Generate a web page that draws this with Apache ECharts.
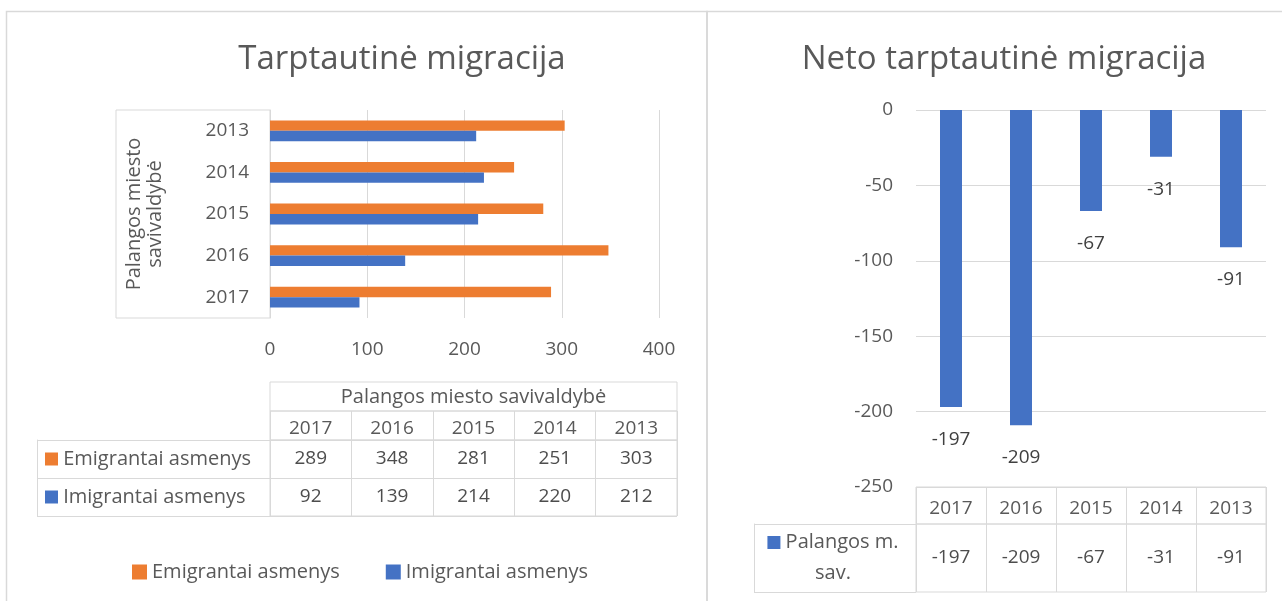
<!DOCTYPE html>
<html>
<head>
<meta charset="utf-8">
<title>Tarptautinė migracija</title>
<script src="https://cdn.jsdelivr.net/npm/echarts@6/dist/echarts.min.js"></script>
<style>
html, body { margin: 0; padding: 0; background: #fff; }
#chart { width: 1282px; height: 601px; }
</style>
</head>
<body>
<div id="chart"></div>
<script>
// duomenys
const years = ['2017', '2016', '2015', '2014', '2013'];
const emigrantai = [289, 348, 281, 251, 303];
const imigrantai = [92, 139, 214, 220, 212];
const neto = [-197, -209, -67, -31, -91];
const groupName = 'Palangos miesto savivaldybė';
const emigName = 'Emigrantai asmenys';
const imigName = 'Imigrantai asmenys';
const netoName = 'Palangos m.\nsav.';

const ORANGE = '#ED7D31';
const BLUE = '#4472C4';
const LINE = '#d9d9d9';
const TXT = '#595959';
const FONT = 'Open Sans';

const txt = (size) => ({ fontFamily: FONT, fontSize: size, color: TXT });
const hidden = (i) => ({ gridIndex: i, type: 'value', show: false });

// lenteles langeliu tekstas per scatter taskus
function cells(xi, yi, row, values) {
    return {
        type: 'scatter', xAxisIndex: xi, yAxisIndex: yi, symbolSize: 0, silent: true,
        itemStyle: { opacity: 1 },
        data: years.map((y, i) => [y, row, values[i]]),
        label: { show: true, position: 'inside', formatter: p => p.value[2], ...txt(19), color: '#4d4d4d' }
    };
}

const rowLabel = (v) => {
    const lines = v.split('\n');
    const key = (v === emigName) ? 'o' : 'b';
    return '{' + key + '|}{t| ' + lines[0] + '}' + lines.slice(1).map(l => '\n{t|' + l + '}').join('');
};
const rowRich = {
    o: { width: 13, height: 13, backgroundColor: ORANGE },
    b: { width: 13, height: 13, backgroundColor: BLUE },
    t: { ...txt(20), lineHeight: 31 }
};

const chart = echarts.init(document.getElementById('chart'));
chart.setOption({
    animation: false,
    textStyle: { fontFamily: FONT },
    title: [
        { text: 'Tarptautinė migracija', left: 397, top: 38, textAlign: 'center',
          textStyle: { ...txt(33), fontWeight: 'normal' } },
        { text: 'Neto tarptautinė migracija', left: 999, top: 38, textAlign: 'center',
          textStyle: { ...txt(33), fontWeight: 'normal' } }
    ],
    graphic: [
        { type: 'rect', silent: true, z: -10, shape: { x: 6.5, y: 11.5, width: 700.5, height: 620 },
          style: { fill: null, stroke: LINE, lineWidth: 1.5 } },
        { type: 'rect', silent: true, z: -10, shape: { x: 707, y: 11.5, width: 620, height: 620 },
          style: { fill: null, stroke: LINE, lineWidth: 1.5 } }
    ],
    legend: {
        data: [emigName, imigName], left: 127, top: 557, icon: 'rect',
        itemWidth: 15, itemHeight: 15, itemGap: 46, textStyle: txt(20)
    },
    grid: [
        { left: 270, top: 110, width: 389, height: 208 },
        { left: 116, top: 110, width: 154, height: 208, show: true, borderColor: LINE },
        { left: 270, top: 382, width: 407, height: 29, show: true, borderColor: LINE },
        { left: 270, top: 411, width: 407, height: 29, show: true, borderColor: LINE },
        { left: 270, top: 440, width: 407, height: 76, show: true, borderColor: LINE },
        { left: 916, top: 110, width: 350, height: 377 },
        { left: 916, top: 487, width: 350, height: 37, show: true, borderColor: LINE },
        { left: 916, top: 524, width: 350, height: 68, show: true, borderColor: LINE }
    ],
    xAxis: [
        { gridIndex: 0, type: 'value', min: 0, max: 400, interval: 100,
          axisLine: { show: false }, axisTick: { show: false },
          splitLine: { lineStyle: { color: LINE } },
          axisLabel: { ...txt(19), margin: 22 } },
        hidden(1),
        { gridIndex: 2, type: 'category', data: [groupName], position: 'top',
          axisLine: { show: false }, axisTick: { show: false },
          axisLabel: { inside: true, margin: 5, ...txt(20) } },
        { gridIndex: 3, type: 'category', data: years, position: 'top',
          axisLine: { show: false }, axisTick: { show: false },
          splitLine: { show: true, interval: 0, lineStyle: { color: LINE } },
          axisLabel: { inside: true, margin: 8, interval: 0, ...txt(19) } },
        { gridIndex: 4, type: 'category', data: years,
          axisLine: { show: false }, axisTick: { show: false }, axisLabel: { show: false },
          splitLine: { show: true, interval: 0, lineStyle: { color: LINE } } },
        { gridIndex: 5, type: 'category', data: years,
          axisLine: { show: false }, axisTick: { show: false }, axisLabel: { show: false } },
        { gridIndex: 6, type: 'category', data: years, position: 'top',
          axisLine: { show: false }, axisTick: { show: false },
          splitLine: { show: true, interval: 0, lineStyle: { color: LINE } },
          axisLabel: { inside: true, margin: 12, interval: 0, ...txt(19) } },
        { gridIndex: 7, type: 'category', data: years,
          axisLine: { show: false }, axisTick: { show: false }, axisLabel: { show: false },
          splitLine: { show: true, interval: 0, lineStyle: { color: LINE } } }
    ],
    yAxis: [
        { gridIndex: 0, type: 'category', data: years,
          axisLine: { lineStyle: { color: LINE } }, axisTick: { show: false },
          axisLabel: { ...txt(19), margin: 21 },
          name: 'Palangos miesto\nsavivaldybė', nameLocation: 'middle', nameRotate: 90, nameGap: 104,
          nameTextStyle: { ...txt(20), lineHeight: 21 } },
        hidden(1),
        hidden(2),
        hidden(3),
        { gridIndex: 4, type: 'category', data: [emigName, imigName], inverse: true, position: 'left',
          axisLine: { show: false },
          axisTick: { show: true, length: 233, lineStyle: { color: LINE } },
          splitLine: { show: true, lineStyle: { color: LINE } },
          axisLabel: { align: 'left', margin: 225, formatter: rowLabel, rich: rowRich } },
        { gridIndex: 4, type: 'category', data: [emigName, imigName], position: 'left', offset: 233,
          axisLine: { lineStyle: { color: LINE } }, axisTick: { show: false }, axisLabel: { show: false } },
        { gridIndex: 5, type: 'value', min: -250, max: 0, interval: 50,
          axisLine: { show: false }, axisTick: { show: false },
          splitLine: { lineStyle: { color: LINE } },
          axisLabel: { ...txt(19), margin: 23 } },
        hidden(6),
        { gridIndex: 7, type: 'category', data: [netoName], position: 'left',
          axisLine: { show: false },
          axisTick: { show: true, length: 162, lineStyle: { color: LINE } },
          axisLabel: { align: 'center', margin: 83, formatter: rowLabel, rich: rowRich } },
        { gridIndex: 7, type: 'category', data: [netoName], position: 'left', offset: 162,
          axisLine: { lineStyle: { color: LINE } }, axisTick: { show: false }, axisLabel: { show: false } }
    ],
    series: [
        { name: emigName, type: 'bar', xAxisIndex: 0, yAxisIndex: 0, data: emigrantai,
          itemStyle: { color: ORANGE }, barGap: '0%', barCategoryGap: '50%' },
        { name: imigName, type: 'bar', xAxisIndex: 0, yAxisIndex: 0, data: imigrantai,
          itemStyle: { color: BLUE }, barGap: '0%', barCategoryGap: '50%' },
        cells(4, 4, emigName, emigrantai),
        cells(4, 4, imigName, imigrantai),
        { name: 'Palangos m. sav.', type: 'bar', xAxisIndex: 5, yAxisIndex: 6, data: neto,
          barWidth: 22, itemStyle: { color: BLUE },
          label: { show: true, position: 'bottom', distance: 23, ...txt(19), color: '#404040' } },
        cells(7, 8, netoName, neto)
    ]
});
</script>
</body>
</html>
